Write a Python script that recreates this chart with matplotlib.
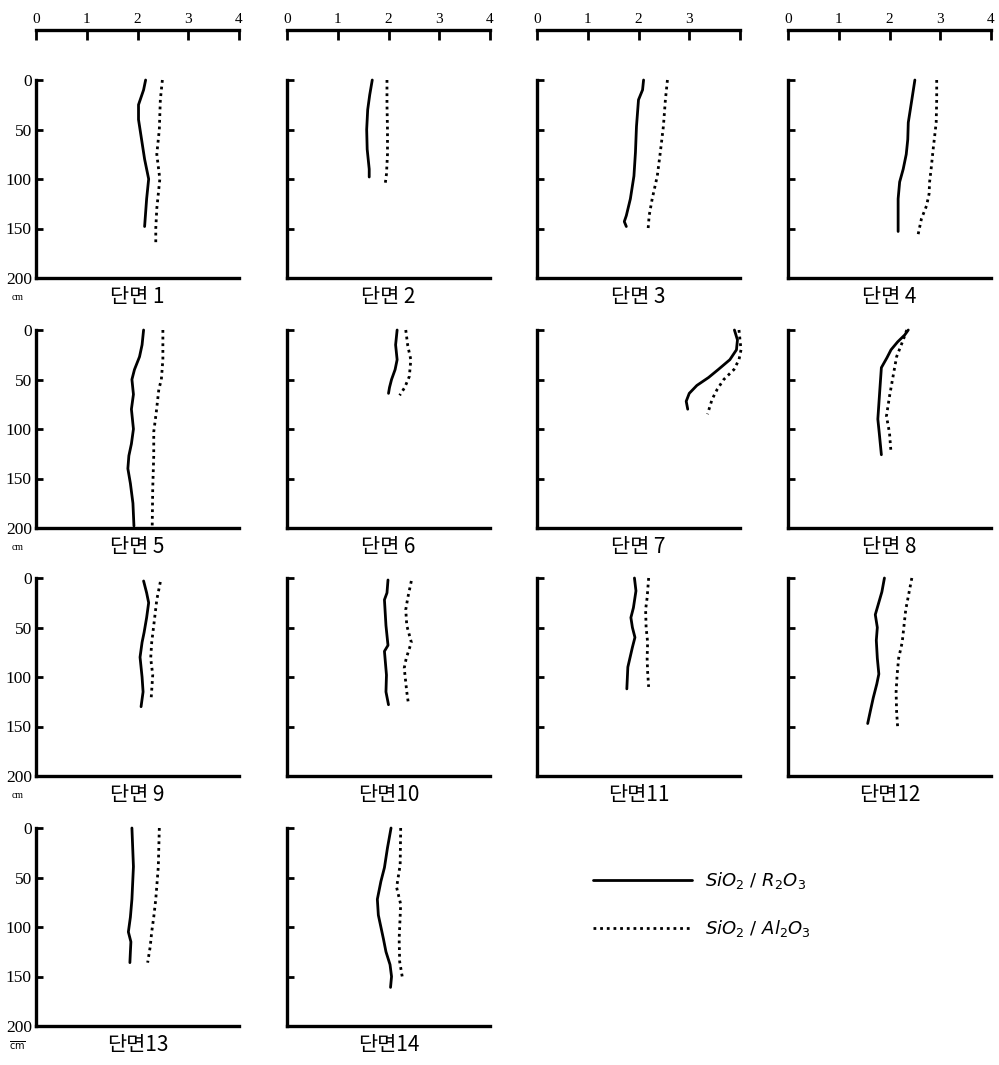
import matplotlib
matplotlib.use("Agg")
import matplotlib.pyplot as plt

# depth (cm) / ratio pairs read from each profile
sections = ["단면 1", "단면 2", "단면 3", "단면 4", "단면 5", "단면 6", "단면 7",
            "단면 8", "단면 9", "단면10", "단면11", "단면12", "단면13", "단면14"]

r2o3_depth = [
    [0, 10, 25, 40, 60, 80, 100, 120, 148],
    [0, 15, 30, 50, 70, 90, 98],
    [0, 10, 20, 47, 73, 97, 120, 137, 143, 148],
    [0, 20, 43, 60, 75, 90, 103, 120, 153],
    [0, 15, 27, 40, 50, 65, 80, 100, 115, 127, 140, 155, 175, 198],
    [0, 15, 30, 40, 50, 58, 64],
    [0, 10, 20, 30, 40, 48, 56, 64, 72, 80],
    [0, 5, 12, 20, 28, 38, 60, 90, 105, 126],
    [3, 15, 25, 40, 55, 65, 80, 100, 115, 130],
    [2, 15, 22, 48, 68, 74, 98, 115, 128],
    [0, 13, 30, 40, 50, 60, 70, 90, 112],
    [0, 14, 37, 50, 63, 81, 97, 107, 121, 135, 147],
    [0, 39, 72, 90, 105, 115, 125, 136],
    [0, 20, 40, 54, 72, 88, 100, 112, 125, 138, 150, 161],
]
r2o3_ratio = [
    [2.16, 2.12, 2.02, 2.02, 2.08, 2.14, 2.22, 2.18, 2.14],
    [1.68, 1.63, 1.59, 1.57, 1.58, 1.62, 1.62],
    [2.10, 2.08, 2.00, 1.96, 1.94, 1.91, 1.84, 1.76, 1.72, 1.76],
    [2.50, 2.44, 2.37, 2.36, 2.33, 2.27, 2.20, 2.17, 2.17],
    [2.12, 2.09, 2.04, 1.94, 1.89, 1.92, 1.88, 1.92, 1.88, 1.83, 1.81, 1.86, 1.91, 1.93],
    [2.17, 2.14, 2.17, 2.13, 2.06, 2.02, 2.00],
    [3.89, 3.95, 3.93, 3.80, 3.57, 3.38, 3.15, 3.00, 2.94, 2.97],
    [2.37, 2.30, 2.16, 2.03, 1.95, 1.84, 1.81, 1.77, 1.80, 1.84],
    [2.12, 2.18, 2.22, 2.18, 2.13, 2.09, 2.05, 2.09, 2.11, 2.07],
    [1.99, 1.97, 1.92, 1.95, 1.99, 1.92, 1.96, 1.95, 2.00],
    [1.92, 1.95, 1.90, 1.85, 1.88, 1.93, 1.88, 1.79, 1.77],
    [1.90, 1.85, 1.72, 1.76, 1.74, 1.76, 1.79, 1.75, 1.68, 1.62, 1.57],
    [1.89, 1.92, 1.89, 1.86, 1.82, 1.87, 1.86, 1.85],
    [2.05, 1.98, 1.92, 1.85, 1.78, 1.80, 1.85, 1.90, 1.95, 2.03, 2.06, 2.04],
]

al2o3_depth = [
    [0, 20, 50, 75, 100, 130, 150, 165],
    [0, 25, 50, 75, 95, 107],
    [0, 20, 47, 73, 97, 120, 137, 150],
    [0, 20, 43, 70, 90, 103, 115, 127, 140, 157],
    [0, 30, 50, 60, 83, 103, 127, 160, 198],
    [0, 16, 30, 47, 58, 66],
    [0, 10, 20, 30, 40, 50, 60, 70, 85],
    [0, 10, 27, 44, 67, 87, 104, 124],
    [4, 22, 48, 65, 81, 98, 121],
    [3, 20, 32, 48, 65, 81, 91, 115, 126],
    [0, 20, 32, 50, 65, 81, 95, 110],
    [0, 32, 65, 81, 98, 115, 135, 150],
    [0, 39, 72, 90, 105, 120, 136],
    [0, 37, 60, 77, 112, 135, 150],
]
al2o3_ratio = [
    [2.49, 2.45, 2.43, 2.38, 2.44, 2.38, 2.36, 2.36],
    [1.97, 1.97, 1.98, 1.98, 1.96, 1.93],
    [2.57, 2.53, 2.49, 2.43, 2.37, 2.27, 2.21, 2.19],
    [2.93, 2.93, 2.92, 2.86, 2.82, 2.79, 2.78, 2.73, 2.63, 2.56],
    [2.50, 2.50, 2.47, 2.42, 2.37, 2.32, 2.32, 2.30, 2.29],
    [2.34, 2.38, 2.44, 2.41, 2.32, 2.22],
    [3.98, 4.00, 4.02, 3.98, 3.88, 3.68, 3.55, 3.45, 3.36],
    [2.34, 2.27, 2.14, 2.08, 2.00, 1.94, 2.00, 2.03],
    [2.45, 2.38, 2.32, 2.28, 2.26, 2.30, 2.27],
    [2.45, 2.38, 2.34, 2.36, 2.45, 2.35, 2.31, 2.36, 2.39],
    [2.20, 2.17, 2.14, 2.15, 2.18, 2.17, 2.18, 2.20],
    [2.44, 2.32, 2.25, 2.18, 2.15, 2.13, 2.14, 2.16],
    [2.43, 2.41, 2.36, 2.32, 2.28, 2.25, 2.20],
    [2.24, 2.23, 2.16, 2.24, 2.21, 2.22, 2.27],
]

x_ticks = [0, 1, 2, 3, 4]
x_ticklabels = [["0", "1", "2", "3", "4"], ["0", "1", "2", "3", "4"],
                ["0", "1", "2", "3", ""], ["0", "1", "2", "3", "4"]]
y_ticks = [0, 50, 100, 150, 200]

W, H = 999, 1065
fig = plt.figure(figsize=(W / 100, H / 100), dpi=100)

lefts = [36, 287, 537, 788]
tops = [80, 330, 578, 828]
pw, ph = 203, 198

serif = "Liberation Serif"
kfont = ["Noto Sans CJK KR", "DejaVu Sans"]

solid_line = dotted_line = None
for i in range(14):
    row, col = divmod(i, 4)
    ax = fig.add_axes([lefts[col] / W, 1 - (tops[row] + ph) / H, pw / W, ph / H])
    solid_line, = ax.plot(r2o3_ratio[i], r2o3_depth[i], color="black", lw=2.0,
                          clip_on=False, solid_capstyle="round")
    dotted_line, = ax.plot(al2o3_ratio[i], al2o3_depth[i], color="black", lw=2.0,
                           linestyle=(0, (1, 1.4)), clip_on=False)
    ax.set_xlim(0, 4)
    ax.set_ylim(200, 0)
    ax.spines["right"].set_visible(False)
    ax.spines["left"].set_linewidth(2.4)
    ax.spines["bottom"].set_linewidth(2.4)

    ax.set_yticks(y_ticks)
    ax.tick_params(axis="y", direction="in", length=5, width=2, pad=3)
    if col == 0:
        ax.set_yticklabels([str(v) for v in y_ticks], fontfamily=serif, fontsize=12.5)
    else:
        ax.set_yticklabels([])

    if row == 0:
        # scale bar above the first row
        ax.xaxis.tick_top()
        ax.spines["top"].set_position(("outward", 36))
        ax.spines["top"].set_linewidth(2.4)
        ax.set_xticks(x_ticks)
        ax.set_xticklabels(x_ticklabels[col], fontfamily=serif, fontsize=11)
        ax.tick_params(axis="x", direction="in", length=7, width=2, pad=3)
    else:
        ax.spines["top"].set_visible(False)
        ax.set_xticks([])

    ax.text(0.5, -0.095, sections[i], transform=ax.transAxes, ha="center",
            va="center", fontsize=15, family=kfont)
    if col == 0:
        cm = r"$\overline{\mathrm{cm}}$" if row == 3 else "cm"
        ax.text(-0.09, -0.1, cm, transform=ax.transAxes, ha="center",
                va="center", fontsize=7, fontfamily=serif)

plt.rcParams["mathtext.fontset"] = "dejavusans"
fig.legend([solid_line, dotted_line],
           [r"$SiO_2\ /\ R_2O_3$", r"$SiO_2\ /\ Al_2O_3$"],
           loc="upper left", bbox_to_anchor=(593 / W, 1 - 870 / H),
           frameon=False, fontsize=13, handlelength=5.5, handletextpad=0.7,
           labelspacing=1.5, borderpad=0, borderaxespad=0)

fig.savefig("out.png", dpi=100)
